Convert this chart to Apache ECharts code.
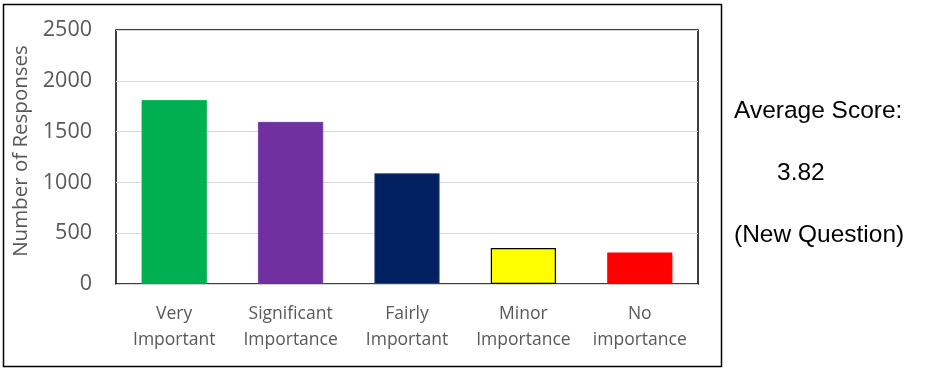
<!DOCTYPE html>
<html><head><meta charset="utf-8">
<script src="https://cdn.jsdelivr.net/npm/echarts@6/dist/echarts.min.js"></script>
<style>html,body{margin:0;padding:0;background:#fff}#c{width:931px;height:389px}</style>
</head><body><div id="c"></div>
<script>
const categories = ['Very\nImportant', 'Significant\nImportance', 'Fairly\nImportant', 'Minor\nImportance', 'No\nimportance'];
const values = [1810, 1595, 1090, 355, 310];
const colors = ['#00B050', '#7030A0', '#002060', '#FFFF00', '#FF0000'];
const yTicks = [0, 500, 1000, 1500, 2000, 2500];
const noteLines = ['Average Score:', '3.82', '(New Question)'];

const chart = echarts.init(document.getElementById('c'));
chart.setOption({
  animation: false,
  grid: { left: 116, right: 233, top: 30, bottom: 105, show: true, borderColor: '#000', borderWidth: 1.5, containLabel: false },
  xAxis: {
    type: 'category', data: categories,
    axisLine: { show: false }, axisTick: { show: false },
    axisLabel: { interval: 0, hideOverlap: false, color: '#595959', fontFamily: 'Open Sans', fontSize: 17.5, lineHeight: 26, margin: 17 }
  },
  yAxis: {
    type: 'value', min: yTicks[0], max: yTicks[yTicks.length - 1], interval: 500,
    name: 'Number of Responses', nameLocation: 'middle', nameGap: 81,
    nameTextStyle: { color: '#595959', fontFamily: 'Open Sans', fontSize: 20.5, padding: [0, 0, 0, 12] },
    axisLine: { show: false }, axisTick: { show: false },
    axisLabel: { color: '#595959', fontFamily: 'Open Sans', fontSize: 21.5, margin: 24, formatter: v => String(v) },
    splitLine: { lineStyle: { color: '#D9D9D9', width: 1 } }
  },
  series: [{
    type: 'bar', barCategoryGap: '44%',
    data: values.map((v, i) => ({ value: v, itemStyle: { color: colors[i], borderColor: i === 3 ? '#000' : (i === 2 ? '#2F4F8F' : colors[i]), borderWidth: i === 3 ? 1.2 : 0.8 } }))
  }],
  graphic: [
    { type: 'rect', shape: { x: 3.5, y: 4.5, width: 718, height: 362 }, style: { fill: 'none', stroke: '#000', lineWidth: 1.5 }, silent: true },
    { type: 'text', left: 734, top: 99, style: { text: noteLines[0], fill: '#000', font: '24.5px "Liberation Sans"' } },
    { type: 'text', left: 777, top: 161, style: { text: noteLines[1], fill: '#000', font: '24.5px "Liberation Sans"' } },
    { type: 'text', left: 734, top: 223, style: { text: noteLines[2], fill: '#000', font: '24.5px "Liberation Sans"' } }
  ]
});
</script></body></html>
